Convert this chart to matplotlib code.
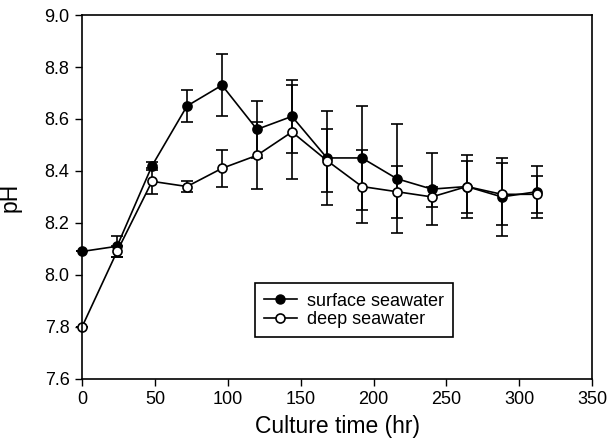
import numpy as np
import matplotlib
matplotlib.use('Agg')
import matplotlib.pyplot as plt
from matplotlib.lines import Line2D

plt.rcParams['font.family'] = ['Liberation Sans', 'DejaVu Sans']

time_hr = [0, 24, 48, 72, 96, 120, 144, 168, 192, 216, 240, 264, 288, 312]

surface_ph = [8.09, 8.11, 8.42, 8.65, 8.73, 8.56, 8.61, 8.45, 8.45, 8.37, 8.33, 8.34, 8.30, 8.32]
surface_err = [0, 0.04, 0.015, 0.06, 0.12, 0.11, 0.14, 0.18, 0.20, 0.21, 0.14, 0.12, 0.15, 0.10]

deep_ph = [7.80, 8.09, 8.36, 8.34, 8.41, 8.46, 8.55, 8.44, 8.34, 8.32, 8.30, 8.34, 8.31, 8.31]
deep_err = [0, 0.02, 0.05, 0.02, 0.07, 0.13, 0.18, 0.12, 0.14, 0.10, 0.04, 0.10, 0.12, 0.07]

fig = plt.figure(figsize=(6.08, 4.43), dpi=100)
ax = fig.add_axes([0.135, 0.145, 0.839, 0.821])

for ph, err, fc in [(surface_ph, surface_err, 'k'), (deep_ph, deep_err, 'w')]:
    eb = ax.errorbar(time_hr, ph, yerr=err, color='k', lw=1.2, marker='o', ms=6.5,
                     mfc=fc, mec='k', mew=1.2, capsize=4, elinewidth=1.2, capthick=1.2)
    for art in eb.lines[0:1] + tuple(eb.lines[1]) + tuple(eb.lines[2]):
        art.set_clip_on(False)

ax.set_xlim(0, 350)
ax.set_ylim(7.6, 9.0)
ax.set_xticks(np.arange(0, 351, 50))
ax.set_yticks(np.arange(7.6, 9.01, 0.2))
ax.set_yticklabels(['%.1f' % v for v in np.arange(7.6, 9.01, 0.2)])
ax.tick_params(direction='out', length=5, width=1, labelsize=13, color='k', pad=4)
for s in ax.spines.values():
    s.set_linewidth(1.2)

ax.set_xlabel('Culture time (hr)', fontsize=16.5, labelpad=5)
ax.set_ylabel('pH', fontsize=16.5)
ax.yaxis.set_label_coords(-0.118, 0.5)

handles = [Line2D([], [], color='k', lw=1.2, marker='o', ms=6.5, mfc='k', mec='k'),
           Line2D([], [], color='k', lw=1.2, marker='o', ms=6.5, mfc='w', mec='k', mew=1.2)]
leg = ax.legend(handles, ['surface seawater', 'deep seawater'], loc='upper left',
                bbox_to_anchor=(0.339, 0.262), fancybox=False, framealpha=1,
                edgecolor='k', fontsize=13, handlelength=1.8, borderpad=0.5,
                handletextpad=0.6, labelspacing=0.1, borderaxespad=0)
leg.get_frame().set_linewidth(1.2)

fig.savefig('out.png', dpi=100)
